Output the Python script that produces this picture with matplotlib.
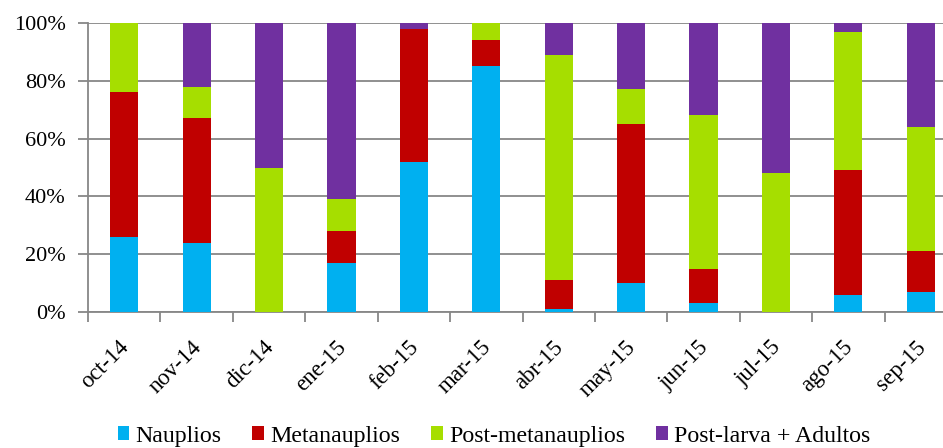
import numpy as np
import matplotlib.pyplot as plt
from matplotlib.patches import Patch
from matplotlib.transforms import ScaledTranslation

plt.rcParams['font.family'] = ['Liberation Serif', 'DejaVu Serif']

months = ['oct-14', 'nov-14', 'dic-14', 'ene-15', 'feb-15', 'mar-15',
          'abr-15', 'may-15', 'jun-15', 'jul-15', 'ago-15', 'sep-15']

# porcentaje de cada estadio por mes
nauplios = [26, 24, 0, 17, 52, 85, 1, 10, 3, 0, 6, 7]
metanauplios = [50, 43, 0, 11, 46, 9, 10, 55, 12, 0, 43, 14]
post_meta = [24, 11, 50, 11, 0, 6, 78, 12, 53, 48, 48, 43]
post_larva = [0, 22, 50, 61, 2, 0, 11, 23, 32, 52, 3, 36]

labels = ['Nauplios', 'Metanauplios', 'Post-metanauplios', 'Post-larva + Adultos']
colors = ['#00B0F0', '#C00000', '#A6DE00', '#7030A0']

series = np.array([nauplios, metanauplios, post_meta, post_larva], dtype=float)
series = series / series.sum(axis=0) * 100

fig = plt.figure(figsize=(9.43, 4.48), dpi=100)
ax = fig.add_axes([88/943, 1 - 312/448, (957 - 88)/943, (312 - 23)/448])

x = np.arange(len(months))
bottom = np.zeros(len(months))
for vals, c in zip(series, colors):
    ax.bar(x, vals, 0.39, bottom=bottom, color=c, zorder=3)
    bottom += vals

ax.set_xlim(-0.5, len(months) - 0.5)
ax.set_ylim(0, 100)
ax.set_yticks(range(0, 101, 20))
ax.set_yticklabels([f'{v}%' for v in range(0, 101, 20)], fontsize=16)
ax.yaxis.grid(True, color='#878787', linewidth=1.3, zorder=0)

ax.set_xticks(np.arange(len(months) + 1) - 0.5, minor=False)
ax.set_xticklabels([])
ax.set_xticks(x, minor=True)
ax.set_xticklabels(months, minor=True, rotation=45, ha='right',
                   rotation_mode='anchor', fontsize=16.5)
ax.tick_params(axis='x', which='minor', length=0, pad=12)
ax.tick_params(axis='x', which='major', length=7, color='#878787', width=1.3)
ax.tick_params(axis='y', length=7, color='#878787', width=1.3, pad=9)

# mover las etiquetas de mes un poco a la izquierda y abajo
shift = ScaledTranslation(-0.06, -0.08, fig.dpi_scale_trans)
for lab in ax.get_xticklabels(minor=True):
    lab.set_transform(lab.get_transform() + shift)

for s in ['top', 'right']:
    ax.spines[s].set_visible(False)
for s in ['left', 'bottom']:
    ax.spines[s].set_color('#878787')
    ax.spines[s].set_linewidth(1.3)

handles = [Patch(facecolor=c, label=l) for c, l in zip(colors, labels)]
fig.legend(handles=handles, loc='center', bbox_to_anchor=(494/943, 1 - 436/448),
           ncol=4, frameon=False, fontsize=17.2, handlelength=0.5, handleheight=0.5,
           handletextpad=0.25, columnspacing=1.3)

fig.savefig('out.png', dpi=100)
